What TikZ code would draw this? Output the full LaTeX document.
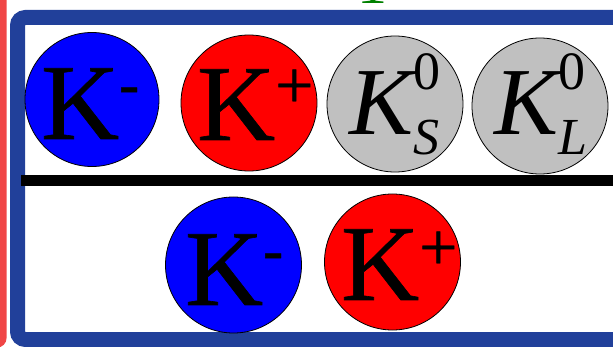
\documentclass[tikz,border=0pt]{standalone}
\usepackage{fontspec}
\setmainfont{Liberation Serif}
\newfontfamily\heavyserif[FakeBold=0.6]{Liberation Serif}
\usepackage{xcolor}
\usepackage{tikz}
\usetikzlibrary{positioning}

\definecolor{frameblue}{RGB}{33,64,154}
\definecolor{framered}{RGB}{240,70,70}
\definecolor{kgray}{RGB}{192,192,192}
\definecolor{markgreen}{RGB}{0,128,0}

\newcommand{\chargedK}[3]{\heavyserif\fontsize{108}{108}\selectfont K\raisebox{#3}{\fontsize{#2}{#2}\selectfont #1}}
\newcommand{\neutralK}[1]{\fontsize{96}{96}\selectfont\itshape K\rlap{\raisebox{45pt}{\fontsize{54}{54}\selectfont\upshape 0}}\raisebox{-20pt}{\fontsize{52}{52}\selectfont #1}}

\begin{document}
\begin{tikzpicture}[
    x=1pt, y=-1pt,
    ball/.style={circle, draw=black, line width=0.8pt,
                minimum size=136pt, inner sep=0pt},
    glyph/.style={anchor=base west, inner sep=0pt, text=black}
]
\useasboundingbox (0,0) rectangle (613,347);

% frames
\draw[framered, line width=7pt, rounded corners=6pt] (-40,-10) rectangle (3,344);
\draw[frameblue, line width=15pt, rounded corners=8pt] (17.5,17.5) rectangle (625,339.5);
\node[glyph, text=markgreen, font=\fontsize{60}{60}\selectfont] (topmark) at (357,4) {1};

% separator
\draw[line width=11pt] (21,180.5) -- (620,180.5);

% upper row
\node[ball, fill=blue, minimum size=134pt] (kminusTop) at (92,99.5) {};
\node[ball, fill=red] (kplusTop) at (249,103) {};
\node[ball, fill=kgray] (kshort) at (395,104) {};
\node[ball, fill=kgray] (klong) at (540,106) {};

% lower row
\node[ball, fill=blue] (kminusBot) at (233.5,265) {};
\node[ball, fill=red] (kplusBot) at (392.5,262) {};

% labels
\node[glyph] (kminusTopText) at ([shift={(-51,39.5)}]kminusTop.center) {\chargedK{-}{60}{35pt}};
\node[glyph] (kplusTopText) at ([shift={(-52,37)}]kplusTop.center) {\chargedK{+}{68}{32pt}};
\node[glyph] (kshortText) at ([shift={(-46,31)}]kshort.center) {\neutralK{S}};
\node[glyph] (klongText) at ([shift={(-46,29)}]klong.center) {\neutralK{L}};
\node[glyph] (kminusBotText) at ([shift={(-48.5,40)}]kminusBot.center) {\chargedK{-}{60}{35pt}};
\node[glyph] (kplusBotText) at ([shift={(-51.5,38)}]kplusBot.center) {\chargedK{+}{68}{30pt}};

\end{tikzpicture}
\end{document}
